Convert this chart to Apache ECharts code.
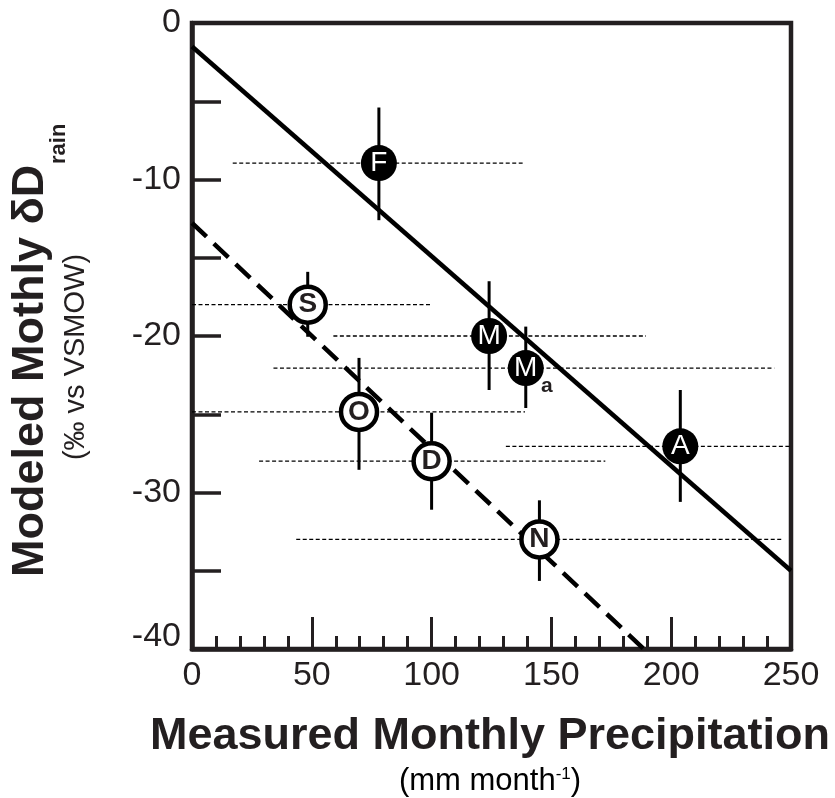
<!DOCTYPE html>
<html>
<head>
<meta charset="utf-8">
<script src="https://cdn.jsdelivr.net/npm/echarts@6/dist/echarts.min.js"></script>
<style>
  html, body { margin: 0; padding: 0; background: #fff; }
  #chart { width: 835px; height: 798px; }
</style>
</head>
<body>
<div id="chart"></div>
<script>
// months (F = Feb, S = Sep ...), Ma is the second M with a subscript
var labels = ["F", "S", "M", "M", "O", "D", "A", "N"];
var subs = ["", "", "", "a", "", "", "", ""];
var filled = [true, false, true, true, false, false, true, false];
// measured precipitation (mm/month) and modeled dD (permil)
var precip = [78, 48.3, 124, 139.3, 69.7, 100, 203.8, 145];
var deltaD = [-8.95, -18, -20, -22.05, -24.85, -28, -27.05, -33];
// vertical error bars
var errTop = [-5.4, -15.9, -16.5, -19.4, -21.4, -24.9, -23.45, -30.5];
var errBottom = [-12.6, -20.05, -23.45, -24.6, -28.55, -31.1, -30.6, -35.65];
// horizontal dotted ranges
var rangeLow = [17, 0, 59, 34, 0, 28, 131, 43.5];
var rangeHigh = [138, 100, 189.5, 243, 139, 172.5, 250, 246];
// regression lines
var fitSolid = [[0, -1.5], [250, -35]];
var fitDashed = [[0, -12.78], [188.6, -40]];

var xTicks = [0, 50, 100, 150, 200, 250];
var yTicks = [0, -10, -20, -30, -40];

var ink = "#231f20";
var font = '"Liberation Sans", Arial, sans-serif';

var errData = precip.map(function (x, i) {
  return [x, deltaD[i], errTop[i], errBottom[i], rangeLow[i], rangeHigh[i]];
});

var pointData = precip.map(function (x, i) {
  return {
    value: [x, deltaD[i]],
    name: labels[i],
    itemStyle: filled[i]
      ? { color: "#000", borderWidth: 0, opacity: 1 }
      : { color: "#fff", borderColor: "#000", borderWidth: 4.5, opacity: 1 },
    label: filled[i]
      ? { color: "#fff", fontWeight: "normal" }
      : { color: ink, fontWeight: "bold" },
  };
});

var myChart = echarts.init(document.getElementById("chart"));
myChart.setOption({
  animation: false,
  backgroundColor: "#fff",
  grid: {
    left: 192,
    top: 23,
    width: 599,
    height: 626,
    show: true,
    borderColor: ink,
    borderWidth: 4.5,
    backgroundColor: "transparent",
  },
  xAxis: {
    type: "value",
    min: 0,
    max: 250,
    interval: 50,
    axisLine: { show: true, onZero: false, lineStyle: { color: ink, width: 4.5 } },
    axisTick: { show: true, inside: true, length: 32, lineStyle: { color: ink, width: 3 } },
    minorTick: { show: true, splitNumber: 5, length: 13, lineStyle: { color: ink, width: 3 } },
    splitLine: { show: false },
    axisLabel: {
      margin: 10,
      fontSize: 34,
      fontFamily: font,
      color: ink,
      formatter: function (v) {
        return xTicks.indexOf(v) > -1 ? String(v) : "";
      },
    },
  },
  yAxis: {
    type: "value",
    min: -40,
    max: 0,
    interval: 5,
    axisLine: { show: true, onZero: false, lineStyle: { color: ink, width: 4.5 } },
    axisTick: { show: true, inside: true, length: 29, lineStyle: { color: ink, width: 3.5 } },
    splitLine: { show: false },
    axisLabel: {
      margin: 11,
      fontSize: 34,
      fontFamily: font,
      color: ink,
      formatter: function (v) {
        if (yTicks.indexOf(v) < 0) return "";
        return v === -40 ? "{lo|-40}" : String(v);
      },
      rich: {
        lo: { fontSize: 34, fontFamily: font, color: ink, padding: [0, 0, 24, 0] },
      },
    },
  },
  graphic: [
    {
      type: "text",
      x: 490,
      y: 737,
      style: {
        text: "Measured Monthly Precipitation",
        font: "bold 45px " + font,
        fill: ink,
        textAlign: "center",
        textVerticalAlign: "middle",
      },
    },
    {
      type: "text",
      x: 490,
      y: 781,
      style: {
        text: "{a|(mm month}{s|-1}{a|)}",
        textAlign: "center",
        textVerticalAlign: "middle",
        rich: {
          a: { fontSize: 31, fontFamily: font, color: ink, verticalAlign: "bottom" },
          s: { fontSize: 17, fontFamily: font, color: ink, verticalAlign: "top" },
        },
      },
    },
    {
      type: "group",
      x: 31,
      y: 577,
      rotation: Math.PI / 2,
      children: [
        {
          type: "text",
          x: 0,
          y: 0,
          style: {
            text: "Modeled Mothly δD",
            font: "bold 45px " + font,
            fill: ink,
            textAlign: "left",
            textVerticalAlign: "middle",
          },
        },
        {
          type: "text",
          x: 413,
          y: 28,
          style: {
            text: "rain",
            font: "bold 22px " + font,
            fill: ink,
            textAlign: "left",
            textVerticalAlign: "middle",
          },
        },
      ],
    },
    {
      type: "text",
      x: 76,
      y: 357,
      rotation: Math.PI / 2,
      style: {
        text: "(‰ vs VSMOW)",
        font: "29px " + font,
        fill: ink,
        textAlign: "center",
        textVerticalAlign: "middle",
      },
    },
  ],
  series: [
    {
      type: "custom",
      z: 1,
      data: errData,
      renderItem: function (params, api) {
        var top = api.coord([api.value(0), api.value(2)]);
        var bot = api.coord([api.value(0), api.value(3)]);
        var l = api.coord([api.value(4), api.value(1)]);
        var r = api.coord([api.value(5), api.value(1)]);
        var c = api.coord([api.value(0), api.value(1)]);
        var children = [
          {
            type: "line",
            shape: { x1: l[0], y1: l[1], x2: r[0], y2: r[1] },
            style: { stroke: "#000", lineWidth: 1.3, lineDash: [4, 2.5] },
          },
          {
            type: "line",
            shape: { x1: top[0], y1: top[1], x2: bot[0], y2: bot[1] },
            style: { stroke: "#000", lineWidth: 3 },
          },
        ];
        var sub = subs[params.dataIndex];
        if (sub) {
          children.push({
            type: "text",
            x: c[0] + 21,
            y: c[1] + 18,
            style: {
              text: sub,
              font: "bold 21px " + font,
              fill: ink,
              textAlign: "center",
              textVerticalAlign: "middle",
            },
          });
        }
        return { type: "group", children: children };
      },
    },
    {
      type: "line",
      z: 2,
      data: fitSolid,
      showSymbol: false,
      lineStyle: { color: "#000", width: 4.5, type: "solid" },
    },
    {
      type: "line",
      z: 2,
      data: fitDashed,
      showSymbol: false,
      lineStyle: { color: "#000", width: 4.5, type: [20, 10] },
    },
    {
      type: "scatter",
      z: 3,
      symbol: "circle",
      symbolSize: 36,
      data: pointData,
      label: {
        show: true,
        position: "inside",
        formatter: "{b}",
        fontSize: 28,
        fontFamily: font,
      },
    },
  ],
});
</script>
</body>
</html>
